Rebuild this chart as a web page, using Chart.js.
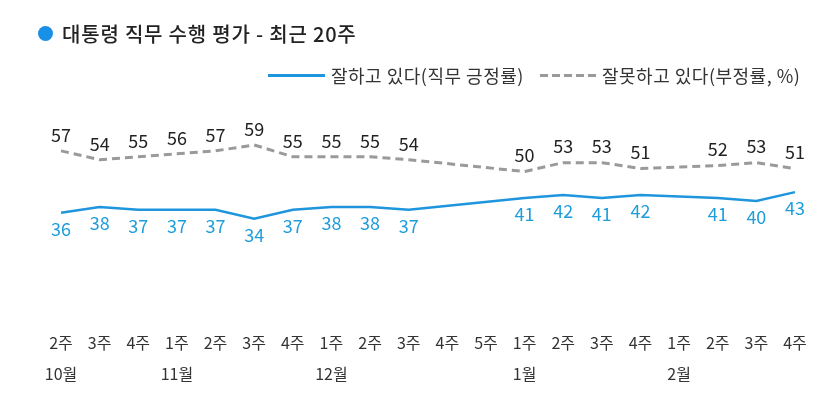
<!DOCTYPE html>
<html><head><meta charset="utf-8">
<script src="https://cdn.jsdelivr.net/npm/chart.js@4.4.1/dist/chart.umd.min.js"></script>
<style>
html,body{margin:0;padding:0;background:#fff;}
#wrap{position:relative;width:834px;height:413px;font-family:"Noto Sans CJK KR","Noto Sans",sans-serif;overflow:hidden;}
#chart{position:absolute;left:0;top:0;}
#title{position:absolute;left:38px;top:20px;height:26px;display:flex;align-items:center;font-size:20px;letter-spacing:0.8px;font-weight:500;color:#222;white-space:nowrap;}
#title .dot{display:inline-block;width:15px;height:15px;border-radius:50%;background:#1a8fe6;margin-right:9px;}
.leg{position:absolute;top:62px;height:26px;display:flex;align-items:center;font-size:18px;letter-spacing:0.5px;color:#333;white-space:nowrap;}
.leg .ln{display:inline-block;width:57px;height:3px;margin-right:6px;}
#leg1{left:268px;}
#leg1 .ln{background:#1e95dc;}
#leg2{left:540px;}
#leg2 .ln{width:56px;background:repeating-linear-gradient(to right,#9a9a9a 0 8px,transparent 8px 12px);}
</style></head>
<body>
<div id="wrap">
<canvas id="chart" width="834" height="413"></canvas>
<div id="title"><span class="dot"></span>대통령 직무 수행 평가 - 최근 20주</div>
<div class="leg" id="leg1"><span class="ln"></span>잘하고 있다(직무 긍정률)</div>
<div class="leg" id="leg2"><span class="ln"></span>잘못하고 있다(부정률, %)</div>
</div>
<script>
const weeks = ['2주','3주','4주','1주','2주','3주','4주','1주','2주','3주','4주','5주','1주','2주','3주','4주','1주','2주','3주','4주'];
const months = ['10월','','','11월','','','','12월','','','','','1월','','','','2월','','',''];
const positive = [36,38,37,37,37,34,37,38,38,37,null,null,41,42,41,42,null,41,40,43];
const negative = [57,54,55,56,57,59,55,55,55,54,null,null,50,53,53,51,null,52,53,51];
const seriesNames = ['잘하고 있다(직무 긍정률)','잘못하고 있다(부정률, %)'];

const labels = weeks.map((w,i)=>[w, months[i]]);

const valueLabels = {
  id:'valueLabels',
  afterDatasetsDraw(chart){
    const ctx = chart.ctx;
    chart.data.datasets.forEach((ds,i)=>{
      const meta = chart.getDatasetMeta(i);
      meta.data.forEach((pt,j)=>{
        const v = ds.data[j];
        if (v === null || v === undefined) return;
        ctx.save();
        ctx.font = '18px "Noto Sans CJK KR", sans-serif';
        ctx.fillStyle = ds.valueColor;
        ctx.textAlign = 'center';
        ctx.textBaseline = 'middle';
        ctx.fillText(String(v), pt.x, pt.y + ds.valueOffset);
        ctx.restore();
      });
    });
  }
};

new Chart(document.getElementById('chart'), {
  type:'line',
  data:{
    labels: labels,
    datasets:[
      {label:seriesNames[0], data:positive, borderColor:'#1e95dc', borderWidth:2.5, pointRadius:0, tension:0, spanGaps:true, valueColor:'#1d9ddb', valueOffset:16},
      {label:seriesNames[1], data:negative, borderColor:'#9a9a9a', borderWidth:3, borderDash:[8,5], pointRadius:0, tension:0, spanGaps:true, valueColor:'#222', valueOffset:-16}
    ]
  },
  options:{
    responsive:false,
    animation:false,
    devicePixelRatio:1,
    layout:{padding:{left:61, right:39, top:24, bottom:16}},
    plugins:{legend:{display:false}, tooltip:{enabled:false}},
    scales:{
      x:{
        offset:false,
        grid:{display:false, drawTicks:false},
        border:{display:false},
        ticks:{autoSkip:false, maxRotation:0, padding:8, color:'#333', font:{family:'"Noto Sans CJK KR", sans-serif', size:16, lineHeight:'31px'}}
      },
      y:{display:false, min:0, max:100}
    }
  },
  plugins:[valueLabels]
});
</script>
</body></html>
